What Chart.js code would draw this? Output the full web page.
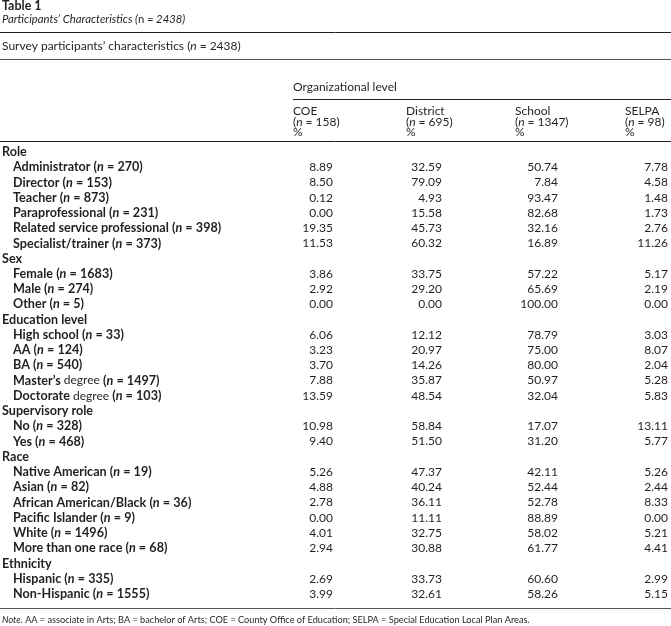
<!DOCTYPE html>
<html>
<head>
<meta charset="utf-8">
<script src="https://cdn.jsdelivr.net/npm/chart.js@4.4.1/dist/chart.umd.min.js"></script>
<style>
  html, body { margin: 0; padding: 0; background: #fff; }
</style>
</head>
<body>
<canvas id="myChart" width="671" height="626"></canvas>
<script>
// table data
const rowNames = [
  'Role', 'Administrator', 'Director', 'Teacher', 'Paraprofessional',
  'Related service professional', 'Specialist/trainer',
  'Sex', 'Female', 'Male', 'Other',
  'Education level', 'High school', 'AA', 'BA', 'Master\u2019s degree', 'Doctorate degree',
  'Supervisory role', 'No', 'Yes',
  'Race', 'Native American', 'Asian', 'African American/Black', 'Pacific Islander',
  'White', 'More than one race',
  'Ethnicity', 'Hispanic', 'Non-Hispanic'
];
const rowCounts = [
  null, 270, 153, 873, 231, 398, 373,
  null, 1683, 274, 5,
  null, 33, 124, 540, 1497, 103,
  null, 328, 468,
  null, 19, 82, 36, 9, 1496, 68,
  null, 335, 1555
];
const coeValues = [
  null, 8.89, 8.50, 0.12, 0.00, 19.35, 11.53,
  null, 3.86, 2.92, 0.00,
  null, 6.06, 3.23, 3.70, 7.88, 13.59,
  null, 10.98, 9.40,
  null, 5.26, 4.88, 2.78, 0.00, 4.01, 2.94,
  null, 2.69, 3.99
];
const districtValues = [
  null, 32.59, 79.09, 4.93, 15.58, 45.73, 60.32,
  null, 33.75, 29.20, 0.00,
  null, 12.12, 20.97, 14.26, 35.87, 48.54,
  null, 58.84, 51.50,
  null, 47.37, 40.24, 36.11, 11.11, 32.75, 30.88,
  null, 33.73, 32.61
];
const schoolValues = [
  null, 50.74, 7.84, 93.47, 82.68, 32.16, 16.89,
  null, 57.22, 65.69, 100.00,
  null, 78.79, 75.00, 80.00, 50.97, 32.04,
  null, 17.07, 31.20,
  null, 42.11, 52.44, 52.78, 88.89, 58.02, 61.77,
  null, 60.60, 58.26
];
const selpaValues = [
  null, 7.78, 4.58, 1.48, 1.73, 2.76, 11.26,
  null, 5.17, 2.19, 0.00,
  null, 3.03, 8.07, 2.04, 5.28, 5.83,
  null, 13.11, 5.77,
  null, 5.26, 2.44, 8.33, 0.00, 5.21, 4.41,
  null, 2.99, 5.15
];
const columnNames = ['COE', 'District', 'School', 'SELPA'];
const columnCounts = [158, 695, 1347, 98];
const totalCount = 2438;

// layout (pixels)
const W = 671, H = 626;
const colRight = [333, 442, 558, 668];   // right edge of value columns
const colLeft = [293, 406, 515, 625];    // left edge of column headers
const ink = '#231f20';
const FF = 'Lato, "Open Sans", sans-serif';
const f = (style, size) => style + ' ' + size + 'px ' + FF;
const REG = 12, BOLD = 12.6;

const EQ = '\u2005=\u2005';

function drawRuns(ctx, x, y, runs) {
  ctx.textAlign = 'left';
  runs.forEach(r => {
    ctx.font = r.font;
    ctx.fillText(r.t, x, y);
    x += ctx.measureText(r.t).width;
  });
  return x;
}

function nRuns(n, base, it) {
  return [{t: '(', font: base}, {t: 'n', font: it}, {t: EQ + n + ')', font: base}];
}

const tablePlugin = {
  id: 'tablePlugin',
  afterDraw(chart) {
    const ctx = chart.ctx;
    const xScale = chart.scales.x;
    const yScale = chart.scales.y;
    ctx.save();
    ctx.fillStyle = ink;
    ctx.strokeStyle = ink;
    ctx.textBaseline = 'middle';

    // title
    drawRuns(ctx, 2, 6, [{t: 'Table 1', font: f('bold', 12.5)}]);
    drawRuns(ctx, 2, 19, [
      {t: 'Participants\u2019 Characteristics (', font: f('italic', 11.3)},
      {t: 'n', font: f('normal', 11.3)},
      {t: EQ + totalCount + ')', font: f('italic', 11.3)}
    ]);

    const rule = (y, x0, x1, w, c) => {
      ctx.beginPath();
      ctx.lineWidth = w;
      ctx.strokeStyle = c;
      ctx.moveTo(x0, y);
      ctx.lineTo(x1, y);
      ctx.stroke();
    };
    rule(32.5, 0, W, 1, ink);
    drawRuns(ctx, 2, 46, [{t: 'Survey participants\u2019 characteristics ', font: f('normal', REG)}]
      .concat(nRuns(totalCount, f('normal', REG), f('italic', REG))));
    rule(59.5, 0, W, 1.2, '#555');

    drawRuns(ctx, colLeft[0], 87, [{t: 'Organizational level', font: f('normal', REG)}]);
    rule(99.5, colLeft[0], W, 1, ink);
    columnNames.forEach((name, k) => {
      drawRuns(ctx, colLeft[k], 111, [{t: name, font: f('normal', REG)}]);
      drawRuns(ctx, colLeft[k], 122, nRuns(columnCounts[k], f('normal', REG), f('italic', REG)));
      drawRuns(ctx, colLeft[k], 132, [{t: '%', font: f('normal', REG)}]);
    });
    rule(141.5, 0, W, 1, ink);

    // row labels
    rowNames.forEach((name, i) => {
      const y = yScale.getPixelForValue(i);
      if (rowCounts[i] == null) {
        drawRuns(ctx, 2, y, [{t: name, font: f('bold', BOLD)}]);
        return;
      }
      let runs;
      if (name.endsWith(' degree')) {
        runs = [{t: name.slice(0, -7), font: f('bold', BOLD)}, {t: ' degree ', font: f('normal', REG)}];
      } else {
        runs = [{t: name + ' ', font: f('bold', BOLD)}];
      }
      runs = runs.concat(nRuns(rowCounts[i], f('bold', BOLD), f('italic bold', BOLD)));
      drawRuns(ctx, 13, y, runs);
    });

    // cell values, placed at the scatter points
    ctx.font = f('normal', REG);
    ctx.textAlign = 'right';
    chart.data.datasets.forEach((ds, k) => {
      const meta = chart.getDatasetMeta(k);
      ds.data.forEach((d, i) => {
        const pt = meta.data[i];
        const px = pt && Number.isFinite(pt.x) ? pt.x : xScale.getPixelForValue(d.x);
        const py = pt && Number.isFinite(pt.y) ? pt.y : yScale.getPixelForValue(d.y);
        ctx.fillText(d.value.toFixed(2), px, py);
      });
    });

    // bottom rule and note
    rule(608.5, 0, W, 1, '#555');
    drawRuns(ctx, 2, 620, [
      {t: 'Note.', font: f('italic', 9.2)},
      {t: ' AA' + EQ + 'associate in Arts; BA' + EQ + 'bachelor of Arts; COE' + EQ +
          'County Office of Education; SELPA' + EQ + 'Special Education Local Plan Areas.',
       font: f('normal', 9.2)}
    ]);
    ctx.restore();
  }
};

const columnValues = [coeValues, districtValues, schoolValues, selpaValues];
const datasets = columnValues.map((vals, k) => ({
  label: columnNames[k],
  data: vals.map((v, i) => ({x: colRight[k], y: i, value: v})).filter(d => d.value != null),
  pointRadius: 0,
  showLine: false
}));

new Chart(document.getElementById('myChart'), {
  type: 'scatter',
  data: { datasets: datasets },
  options: {
    responsive: false,
    animation: false,
    devicePixelRatio: 1,
    layout: { padding: { top: 152, bottom: H - 594, left: 0, right: 0 } },
    plugins: { legend: { display: false }, tooltip: { enabled: false } },
    scales: {
      x: { type: 'linear', min: 0, max: W, display: false },
      y: { type: 'linear', min: 0, max: rowNames.length - 1, reverse: true, display: false }
    }
  },
  plugins: [tablePlugin]
});
</script>
</body>
</html>
